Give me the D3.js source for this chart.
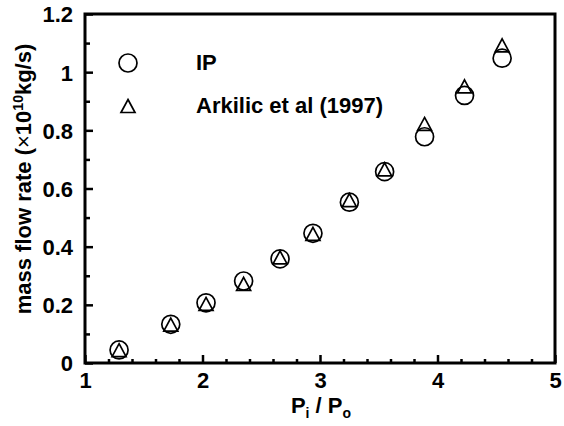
<!DOCTYPE html>
<html>
<head>
<meta charset="utf-8">
<script src="https://cdn.jsdelivr.net/npm/d3@7"></script>
<style>
  html, body { margin: 0; padding: 0; background: #fff; }
  svg text { font-family: "Liberation Sans", Arial, Helvetica, sans-serif; font-weight: bold; fill: #000; }
</style>
</head>
<body>
<svg id="chart" width="564" height="426"></svg>
<script>
// ---- data ----
const pressureRatio = [1.29, 1.73, 2.03, 2.35, 2.66, 2.94, 3.25, 3.55, 3.89, 4.23, 4.55];
const ipFlow        = [0.045, 0.133, 0.207, 0.282, 0.358, 0.446, 0.553, 0.658, 0.778, 0.920, 1.048];
const arkilicFlow   = [0.044, 0.132, 0.203, 0.272, 0.363, 0.444, 0.560, 0.666, 0.822, 0.951, 1.092];
const xTicks = [1, 2, 3, 4, 5];
const yTicks = [0, 0.2, 0.4, 0.6, 0.8, 1.0, 1.2];
const yTickLabels = ["0", "0.2", "0.4", "0.6", "0.8", "1", "1.2"];
const seriesNames = ["IP", "Arkilic et al (1997)"];

// ---- layout ----
const svg = d3.select("#chart");
const L = 85, R = 555, T = 14, B = 363;
const x = d3.scaleLinear().domain([1, 5]).range([L, R]);
const y = d3.scaleLinear().domain([0, 1.2]).range([B, T]);
const FS = 22;

// minor ticks (inward)
const xMinor = d3.range(1, 5.001, 0.2).filter(v => Math.abs(v - Math.round(v)) > 1e-6);
const yMinor = d3.range(0.1, 1.2, 0.2);

svg.append("g").attr("transform", `translate(0,${B})`)
  .call(d3.axisTop(x).tickValues(xMinor).tickSize(4).tickFormat(""))
  .call(g => g.select(".domain").remove())
  .call(g => g.selectAll("line").attr("stroke", "#000").attr("stroke-width", 2.5));
svg.append("g").attr("transform", `translate(${L},0)`)
  .call(d3.axisRight(y).tickValues(yMinor).tickSize(5).tickFormat(""))
  .call(g => g.select(".domain").remove())
  .call(g => g.selectAll("line").attr("stroke", "#000").attr("stroke-width", 2.5));

// major x axis: ticks inward, labels below
const xAx = svg.append("g").attr("transform", `translate(0,${B})`)
  .call(d3.axisBottom(x).tickValues(xTicks).tickSize(0).tickPadding(9).tickFormat(d3.format("d")));
xAx.select(".domain").remove();
xAx.selectAll("text").attr("font-size", FS).attr("dy", "0.71em");
xAx.selectAll(".tick").append("line").attr("y1", 0).attr("y2", -8).attr("stroke", "#000").attr("stroke-width", 2.5);

// major y axis
const yAx = svg.append("g").attr("transform", `translate(${L},0)`)
  .call(d3.axisLeft(y).tickValues(yTicks).tickSize(0).tickPadding(12).tickFormat((d, i) => yTickLabels[i]));
yAx.select(".domain").remove();
yAx.selectAll("text").attr("font-size", FS).attr("dy", "0.36em");
yAx.selectAll(".tick").append("line").attr("x1", 0).attr("x2", 8).attr("stroke", "#000").attr("stroke-width", 2.5);

// frame
svg.append("rect").attr("x", L).attr("y", T).attr("width", R - L).attr("height", B - T)
  .attr("fill", "none").attr("stroke", "#000").attr("stroke-width", 3);

// markers
const triW = 14, triH = 13;
const triPath = `M0,${-triH/2}L${triW/2},${triH/2}L${-triW/2},${triH/2}Z`;
const rC = 9;

svg.append("g").selectAll("circle").data(pressureRatio).join("circle")
  .attr("cx", d => x(d)).attr("cy", (d, i) => y(ipFlow[i])).attr("r", rC)
  .attr("fill", "none").attr("stroke", "#000").attr("stroke-width", 1.7);

svg.append("g").selectAll("path").data(pressureRatio).join("path")
  .attr("transform", (d, i) => `translate(${x(d)},${y(arkilicFlow[i])})`)
  .attr("d", triPath)
  .attr("fill", "none").attr("stroke", "#000").attr("stroke-width", 1.7).attr("stroke-linejoin", "miter");

// legend
const leg = svg.append("g");
leg.append("circle").attr("cx", 128).attr("cy", 63).attr("r", rC)
  .attr("fill", "none").attr("stroke", "#000").attr("stroke-width", 1.7);
leg.append("text").attr("x", 196).attr("y", 70).attr("font-size", FS).text(seriesNames[0]);
leg.append("path").attr("transform", "translate(128,106)").attr("d", triPath)
  .attr("fill", "none").attr("stroke", "#000").attr("stroke-width", 1.7);
leg.append("text").attr("x", 196).attr("y", 113).attr("font-size", FS).text(seriesNames[1]);

// axis titles
const xt = svg.append("text").attr("x", 321).attr("y", 413).attr("text-anchor", "middle").attr("font-size", FS);
xt.append("tspan").text("P");
xt.append("tspan").attr("font-size", 14).attr("dy", 5).text("i");
xt.append("tspan").attr("dy", -5).text(" / P");
xt.append("tspan").attr("font-size", 14).attr("dy", 5).text("o");

const yt = svg.append("text").attr("transform", "translate(31,179) rotate(-90)")
  .attr("text-anchor", "middle").attr("font-size", FS);
yt.append("tspan").text("mass flow rate (");
yt.append("tspan").attr("font-weight", "normal").text("×");
yt.append("tspan").text("10");
yt.append("tspan").attr("font-size", 14).attr("dy", -8).text("10");
yt.append("tspan").attr("dy", 8).text("kg/s)");
</script>
</body>
</html>
